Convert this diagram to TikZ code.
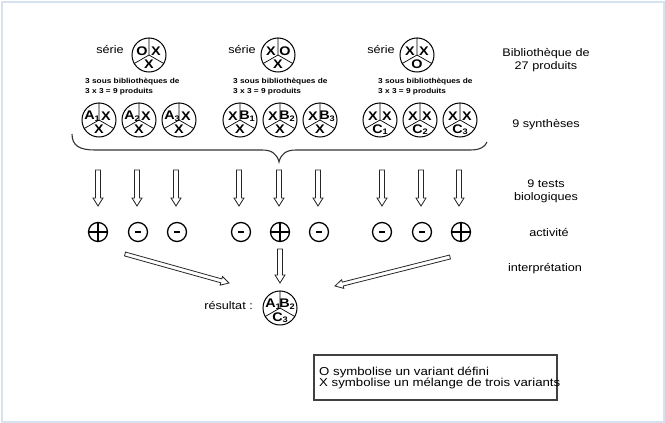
\documentclass[tikz,border=0pt]{standalone}
\usepackage{fontspec}
\setmainfont{Liberation Sans}[FakeStretch=1.15]
\usetikzlibrary{calc}
\definecolor{framec}{RGB}{214,226,240}
\newcommand\sbs[1]{\raisebox{-1.5pt}{\fontsize{8}{8}\selectfont #1}}
\newcommand\triocirc[6]{%
  \node[trio] (#1) at (#2,#3) {};
  \draw[trioline] (#1.north) -- (#1.center) -- (#1.210);
  \draw[trioline] (#1.center) -- (#1.330);
  \node[triolab] at ([shift={(-7,-4)}]#1.center) {#4};
  \node[triolab] at ([shift={(7,-4)}]#1.center) {#5};
  \node[triolab] at ([shift={(0,9.5)}]#1.center) {#6};
}
\newcommand\pmplus[3]{%
  \node[pmc] (#1) at (#2,#3) {};
  \draw[pmsym] (#1.north) -- (#1.south) (#1.west) -- (#1.east);
}
\newcommand\pmminus[3]{%
  \node[pmc] (#1) at (#2,#3) {};
  \draw[pmsym,line width=2.2pt] ([shift={(-3,0)}]#1.center) -- ([shift={(3,0)}]#1.center);
}
\newcommand\harrow[4]{%
  \coordinate (hh) at ($(#2)!8pt!(#1)$);
  \draw[harrowst] ($(#1)!#3!90:(#2)$) -- ($(hh)!#3!90:(#2)$) -- ($(hh)!#4!90:(#2)$) -- (#2)
    -- ($(hh)!#4!-90:(#2)$) -- ($(hh)!#3!-90:(#2)$) -- ($(#1)!#3!-90:(#2)$) -- cycle;
}
\begin{document}
\begin{tikzpicture}[x=1pt,y=-1pt,
  trio/.style={circle,draw=black,line width=1pt,minimum size=34pt,inner sep=0pt},
  trioline/.style={line width=0.7pt},
  triolab/.style={inner sep=0pt,font=\bfseries\fontsize{12.5}{12.5}\selectfont},
  lab/.style={inner sep=0pt,font=\fontsize{11}{13}\selectfont,align=center},
  small/.style={inner sep=0pt,font=\bfseries\fontsize{7.2}{10}\selectfont,align=left,anchor=west},
  pmc/.style={circle,draw=black,line width=1.3pt,minimum size=19pt,inner sep=0pt},
  pmsym/.style={line width=1.6pt},
  harrowst/.style={draw=black!85,line width=0.8pt,fill=white,line join=miter},
  bracest/.style={draw=black!80,line width=1.1pt}]
\useasboundingbox (0,0) rectangle (665,423);
\draw[framec,line width=2pt] (1.5,1.5) rectangle (663.5,421.5);

% series
\node[lab] (s1) at (110,50) {série};
\node[lab] (s2) at (242,50) {série};
\node[lab] (s3) at (381,50) {série};
\triocirc{S1}{149}{55}{O}{X}{X}
\triocirc{S2}{278}{55}{X}{O}{X}
\triocirc{S3}{417}{55}{X}{X}{O}
\node[small] (t1) at (85,87) {3 sous bibliothèques de\\3 x 3 = 9 produits};
\node[small] (t2) at (233,87) {3 sous bibliothèques de\\3 x 3 = 9 produits};
\node[small] (t3) at (378,87) {3 sous bibliothèques de\\3 x 3 = 9 produits};

% right column
\node[lab] (r1) at (546,60) {Bibliothèque de\\27 produits};
\node[lab] (r2) at (546,125) {9 synthèses};
\node[lab] (r3) at (546,191) {9 tests\\biologiques};
\node[lab] (r4) at (549,233) {activité};
\node[lab] (r5) at (545,269) {interprétation};

% syntheses
\triocirc{A1}{99}{120}{A\sbs{1}}{X}{X}
\triocirc{A2}{139}{120}{A\sbs{2}}{X}{X}
\triocirc{A3}{179}{120}{A\sbs{3}}{X}{X}
\triocirc{B1}{240}{120}{X}{B\sbs{1}}{X}
\triocirc{B2}{280}{120}{X}{B\sbs{2}}{X}
\triocirc{B3}{320}{120}{X}{B\sbs{3}}{X}
\triocirc{C1}{380}{120}{X}{X}{C\sbs{1}}
\triocirc{C2}{420}{120}{X}{X}{C\sbs{2}}
\triocirc{C3}{460}{120}{X}{X}{C\sbs{3}}

% brace
\draw[bracest] (72,134) .. controls (72,146) and (80,150) .. (95,150) -- (262,150)
  .. controls (272,150) and (277,154) .. (279,162)
  .. controls (281,154) and (286,150) .. (296,150) -- (470,150)
  .. controls (480,150) and (485,147) .. (487,142);

% activity signs
\pmplus{P1}{98}{232}
\pmminus{P2}{138}{232}
\pmminus{P3}{177}{232}
\pmminus{P4}{241}{232}
\pmplus{P5}{280}{232}
\pmminus{P6}{319}{232}
\pmminus{P7}{382}{232}
\pmminus{P8}{422}{232}
\pmplus{P9}{461}{232}

% vertical arrows
\foreach \i/\xx in {1/98,2/137,3/176,4/239,5/279,6/318,7/382,8/421,9/459}{
  \coordinate (va\i) at (\xx,170);
  \coordinate (vb\i) at (\xx,206);
  \harrow{va\i}{vb\i}{2.5pt}{5pt}
}

% result
\triocirc{R}{280}{308}{A\sbs{1}}{B\sbs{2}}{C\sbs{3}}
\node[lab,anchor=east] (res) at (253,306) {résultat :};
\coordinate (la) at (125,254);
\coordinate (lb) at (229,283);
\coordinate (ma) at (280,249);
\coordinate (mb) at (280,283);
\coordinate (ra) at (450,257);
\coordinate (rb) at (335,286);
\harrow{la}{lb}{2pt}{4.5pt}
\harrow{ma}{mb}{2.5pt}{5pt}
\harrow{ra}{rb}{2pt}{4.5pt}

% legend
\node[draw=black!75,line width=1.2pt,minimum width=243pt,minimum height=45pt,inner sep=0pt] (leg) at (435.5,377.5) {};
\node[inner sep=0pt,anchor=west,align=left,font=\fontsize{11.5}{11.5}\selectfont] (legt) at (319,378)
  {O symbolise un variant défini\\X symbolise un mélange de trois variants};
\end{tikzpicture}
\end{document}
